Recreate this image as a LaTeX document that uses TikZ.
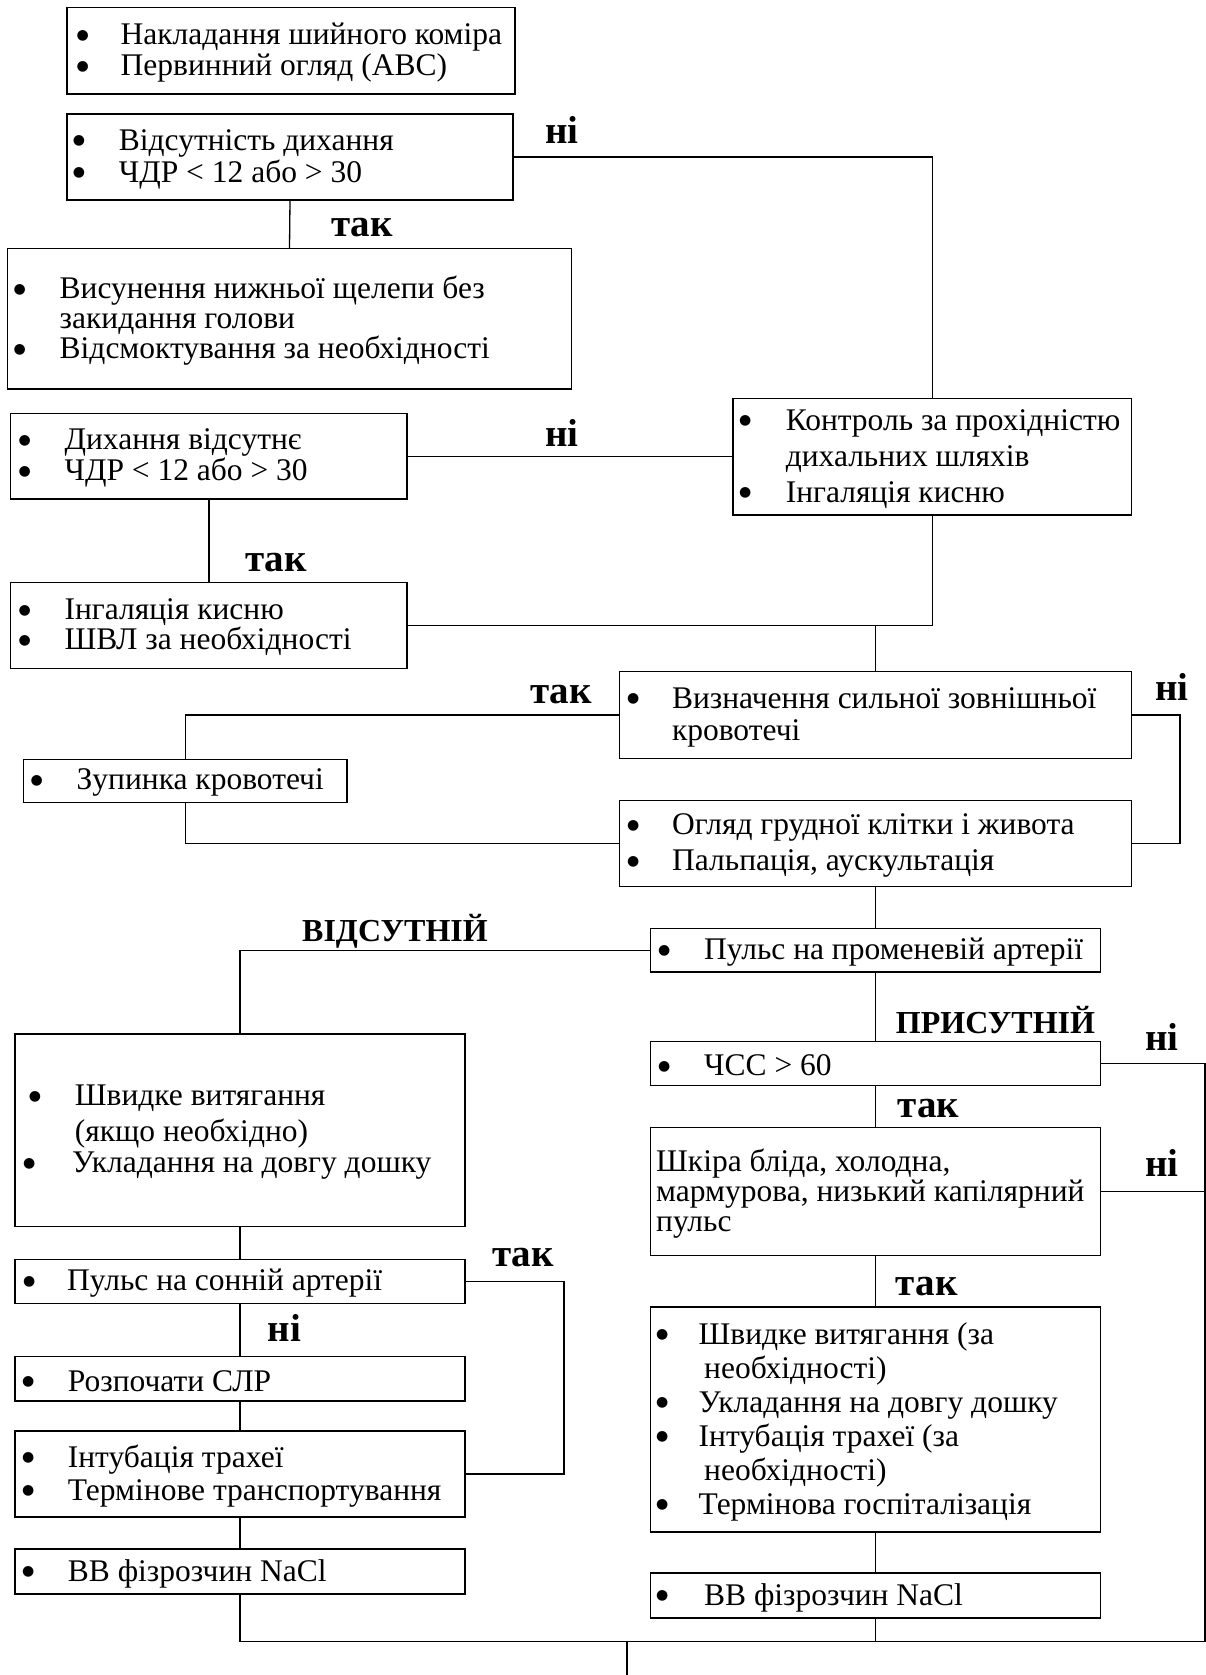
\documentclass[tikz,border=0pt]{standalone}
\usepackage{fontspec}
\setmainfont{Liberation Serif}
\newfontfamily\dvfont{DejaVu Sans}
\newcommand\dotb{\raisebox{5.5pt}{\dvfont\fontsize{14}{14}\selectfont ●}}
\newcommand\B[2]{\makebox[#1pt][l]{\dotb}#2}
\newcommand\C[2]{\hspace*{#1pt}#2}
\begin{document}
\begin{tikzpicture}[x=1pt,y=-1pt,
  box/.style={draw, line width=1.2pt, inner sep=0pt, outer sep=0pt, anchor=north west},
  txt/.style={inner sep=0pt, align=left, anchor=west, yshift=-2pt},
  fs/.style={font=\fontsize{31.5}{#1}\selectfont},
  lab/.style={inner sep=0pt, anchor=base west, font=\fontsize{39}{40}\selectfont\bfseries},
  capl/.style={inner sep=0pt, anchor=base west, font=\fontsize{32}{34}\selectfont\bfseries},
  conn/.style={line width=1.3pt}]
\useasboundingbox (0,0) rectangle (1206,1675);
\fill[white] (0,0) rectangle (1206,1675);
% boxes
\node[box, minimum width=448pt, minimum height=86.5pt] (b1) at (67,7.5) {};
\node[box, minimum width=446pt, minimum height=86pt] (b2) at (67,114) {};
\node[box, minimum width=564pt, minimum height=140.5pt] (b3) at (7.5,248.5) {};
\node[box, minimum width=396.3pt, minimum height=85.5pt] (b4) at (10.7,413.5) {};
\node[box, minimum width=398.5pt, minimum height=116.7pt] (k) at (733,398.3) {};
\node[box, minimum width=396.3pt, minimum height=86pt] (b5) at (10.7,582.5) {};
\node[box, minimum width=512pt, minimum height=86.6pt] (v) at (619.5,671.8) {};
\node[box, minimum width=323.5pt, minimum height=43.2pt] (z) at (23.5,759.3) {};
\node[box, minimum width=512pt, minimum height=86.2pt] (o) at (619.5,800.5) {};
\node[box, minimum width=450pt, minimum height=43.7pt] (p) at (650.5,928.3) {};
\node[box, minimum width=450pt, minimum height=44pt] (c) at (650.5,1041.5) {};
\node[box, minimum width=450pt, minimum height=128pt] (s) at (650.5,1127.3) {};
\node[box, minimum width=450pt, minimum height=225pt] (r) at (650.5,1307) {};
\node[box, minimum width=450pt, minimum height=45pt] (nr) at (650.5,1573) {};
\node[box, minimum width=450pt, minimum height=192.3pt] (ls) at (15,1034) {};
\node[box, minimum width=450pt, minimum height=44pt] (ps) at (15,1259.4) {};
\node[box, minimum width=450pt, minimum height=44.4pt] (slr) at (15,1356.6) {};
\node[box, minimum width=450pt, minimum height=86pt] (it) at (15,1431) {};
\node[box, minimum width=450pt, minimum height=45pt] (nl) at (15,1549) {};
% texts
\node[txt, fs=31] (b1t) at ([xshift=9.5pt]b1.west) {\B{44}{Накладання шийного коміра}\\\B{44}{Первинний огляд (АВС)}};
\node[txt, fs=32] (b2t) at ([xshift=5.7pt]b2.west) {\B{46}{Відсутність дихання}\\\B{46}{ЧДР < 12 або > 30}};
\node[txt, fs=30] (b3t) at ([xshift=6pt]b3.west) {\B{46}{Висунення нижньої щелепи без}\\\C{46}{закидання голови}\\\B{46}{Відсмоктування за необхідності}};
\node[txt, fs=31] (b4t) at ([xshift=7.7pt]b4.west) {\B{46}{Дихання відсутнє}\\\B{46}{ЧДР < 12 або > 30}};
\node[txt, fs=36] (kt) at ([xshift=6pt]k.west) {\B{46.6}{Контроль за прохідністю}\\\C{46.6}{дихальних шляхів}\\\B{46.6}{Інгаляція кисню}};
\node[txt, fs=30] (b5t) at ([xshift=7.7pt]b5.west) {\B{46}{Інгаляція кисню}\\\B{46}{ШВЛ за необхідності}};
\node[txt, fs=32] (vt) at ([xshift=7.5pt]v.west) {\B{44.8}{Визначення сильної зовнішньої}\\\C{44.8}{кровотечі}};
\node[txt, fs=32] (zt) at ([xshift=7pt]z.west) {\B{46}{Зупинка кровотечі}};
\node[txt, fs=36] (ot) at ([xshift=7.5pt]o.west) {\B{45}{Огляд грудної клітки і живота}\\\B{45}{Пальпація, аускультація}};
\node[txt, fs=32] (pt) at ([xshift=7.5pt]p.west) {\B{46}{Пульс на променевій артерії}};
\node[txt, fs=32] (ct) at ([xshift=7.5pt]c.west) {\B{46}{ЧСС > 60}};
\node[txt, fs=30] (st) at ([xshift=5.5pt]s.west) {Шкіра бліда, холодна,\\мармурова, низький капілярний\\пульс};
\node[txt, fs=34] (rt) at ([xshift=5.5pt]r.west) {\B{42.5}{Швидке витягання (за}\\\C{48}{необхідності)}\\\B{42.5}{Укладання на довгу дошку}\\\B{42.5}{Інтубація трахеї (за}\\\C{48}{необхідності)}\\\B{42.5}{Термінова госпіталізація}};
\node[txt, fs=32] (nrt) at ([xshift=5.5pt]nr.west) {\B{48}{ВВ фізрозчин NaCl}};
\node[txt, fs=31] (lst) at ([xshift=8pt]ls.west) {\C{5.7}{\B{46}{Швидке витягання}}\\[5pt]\C{51.7}{(якщо необхідно)}\\\B{49}{Укладання на довгу дошку}};
\node[txt, fs=32] (pst) at ([xshift=8pt]ps.west) {\B{44}{Пульс на сонній артерії}};
\node[txt, fs=32] (slrt) at ([xshift=7pt]slr.west) {\B{45.7}{Розпочати СЛР}};
\node[txt, fs=33] (itt) at ([xshift=7pt]it.west) {\B{45.7}{Інтубація трахеї}\\\B{45.7}{Термінове транспортування}};
\node[txt, fs=32] (nlt) at ([xshift=7pt]nl.west) {\B{45.7}{ВВ фізрозчин NaCl}};
% labels
\node[lab] (l1) at (545,143) {ні};
\node[lab] (l2) at (331,236.7) {так};
\node[lab] (l3) at (545,446.7) {ні};
\node[lab] (l4) at (245,571.7) {так};
\node[lab] (l5) at (530,703.3) {так};
\node[lab] (l6) at (1155,700) {ні};
\node[capl] (l7) at (302,941.7) {ВІДСУТНІЙ};
\node[capl] (l8) at (895.7,1033.3) {ПРИСУТНІЙ};
\node[lab] (l9) at (1145,1050) {ні};
\node[lab] (l10) at (897.6,1117.3) {так};
\node[lab] (l11) at (1145,1176.7) {ні};
\node[lab] (l12) at (895.7,1295) {так};
\node[lab] (l13) at (491.8,1266.7) {так};
\node[lab] (l14) at (267.7,1341.7) {ні};
% connectors
\coordinate (br) at (1205,1641.5);
\coordinate (out) at (627,1675);
\coordinate (vr) at (1180,715.1);
\coordinate (pr) at (564,1281.4);
\draw[conn] (b2.east) -| (k.north);
\draw[conn] (b2.south) -- (b3.north);
\draw[conn] (b4.east) -- (b4.east -| k.west);
\draw[conn] (b4.south) -- (b5.north);
\draw[conn] (b5.east) -| (k.south);
\draw[conn] (v.north) -- (v.north |- b5.east);
\draw[conn] (v.west) -| (z.north);
\draw[conn] (z.south) |- (o.west);
\draw[conn] (v.east) -- (vr) |- (o.east);
\draw[conn] (o.south) -- (p.north);
\draw[conn] (p.west) -| (ls.north);
\draw[conn] (p.south) -- (c.north);
\draw[conn] (c.east) -| (br);
\draw[conn] (s.east) -- (s.east -| br);
\draw[conn] (c.south) -- (s.north);
\draw[conn] (s.south) -- (r.north);
\draw[conn] (r.south) -- (nr.north);
\draw[conn] (nr.south) -- (nr.south |- br);
\draw[conn] (ls.south) -- (ps.north);
\draw[conn] (ps.east) -- (pr) |- (it.east);
\draw[conn] (ps.south) -- (slr.north);
\draw[conn] (slr.south) -- (it.north);
\draw[conn] (it.south) -- (nl.north);
\draw[conn] (nl.south) |- (br);
\draw[conn] (out |- br) -- (out);
\end{tikzpicture}
\end{document}
